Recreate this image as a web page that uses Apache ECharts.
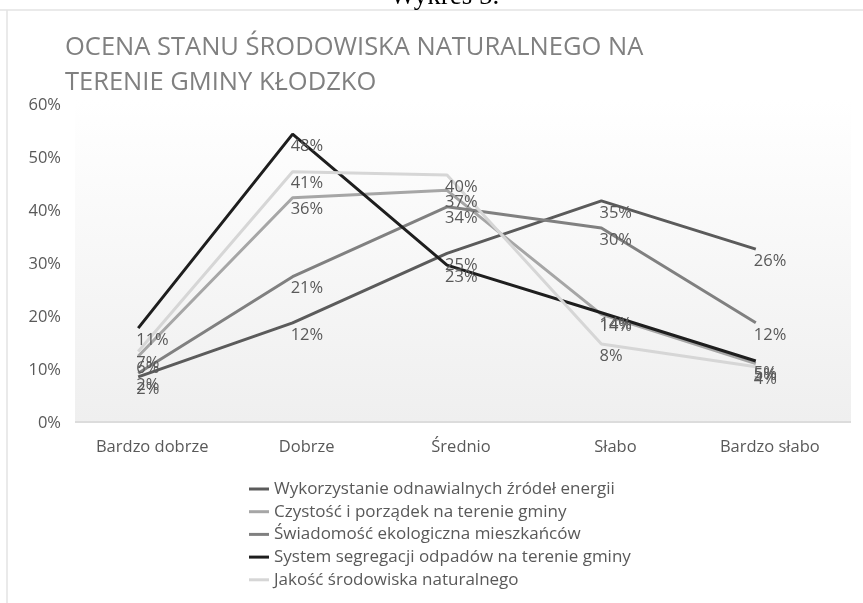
<!DOCTYPE html>
<html>
<head>
<meta charset="utf-8">
<script src="https://cdn.jsdelivr.net/npm/echarts@6/dist/echarts.min.js"></script>
<style>
  html, body { margin: 0; padding: 0; background: #fff; }
  #chart { width: 863px; height: 603px; }
</style>
</head>
<body>
<div id="chart"></div>
<script>
  // kategorie osi X
  var categories = ['Bardzo dobrze', 'Dobrze', 'Średnio', 'Słabo', 'Bardzo słabo']
  var seriesNames = [
    'Wykorzystanie odnawialnych źródeł energii',
    'Czystość i porządek na terenie gminy',
    'Świadomość ekologiczna mieszkańców',
    'System segregacji odpadów na terenie gminy',
    'Jakość środowiska naturalnego'
  ]
  var wykorzystanie = [8.7, 18.9, 32.0, 41.9, 32.8]
  var czystosc = [12.6, 42.5, 43.9, 20.5, 11.2]
  var swiadomosc = [9.4, 27.6, 40.8, 36.8, 18.9]
  var segregacja = [17.9, 54.5, 29.8, 20.8, 11.7]
  var jakosc = [13.5, 47.4, 46.8, 14.9, 10.6]
  // etykiety danych z wykresu
  var wykorzystanieLabels = [2, 12, 25, 35, 26]
  var czystoscLabels = [6, 36, 37, 14, 5]
  var swiadomoscLabels = [2, 21, 34, 30, 12]
  var segregacjaLabels = [11, 48, 23, 14, 5]
  var jakoscLabels = [7, 41, 40, 8, 4]
  var yTicks = [0, 10, 20, 30, 40, 50, 60]

  var colors = ['#5b5b5b', '#a6a6a6', '#808080', '#1e1e1e', '#d6d6d6']
  var values = [wykorzystanie, czystosc, swiadomosc, segregacja, jakosc]
  var labels = [wykorzystanieLabels, czystoscLabels, swiadomoscLabels, segregacjaLabels, jakoscLabels]
  var txt = '#595959'

  var chart = echarts.init(document.getElementById('chart'))

  var series = seriesNames.map(function (name, i) {
    return {
      name: name,
      type: 'line',
      data: values[i],
      symbol: 'circle',
      symbolSize: 0.1,
      lineStyle: { color: colors[i], width: 3 },
      itemStyle: { color: colors[i] },
      label: {
        show: true,
        position: 'right',
        distance: 0,
        offset: [-2, 12],
        color: txt,
        fontFamily: 'Open Sans',
        fontSize: 16.5,
        formatter: function (p) { return labels[i][p.dataIndex] + '%' }
      },
      z: 3
    }
  })

  chart.setOption({
    animation: false,
    color: colors,
    title: {
      text: 'OCENA STANU ŚRODOWISKA NATURALNEGO NA\nTERENIE GMINY KŁODZKO',
      left: 60,
      top: 25,
      textStyle: {
        color: '#808080',
        fontFamily: 'Open Sans',
        fontWeight: 'normal',
        fontSize: 25.5,
        lineHeight: 35
      }
    },
    graphic: [
      { type: 'line', shape: { x1: 0, y1: 10, x2: 863, y2: 10 }, style: { stroke: '#e3e3e3', lineWidth: 1.5 }, z: -2 },
      { type: 'line', shape: { x1: 7, y1: 10, x2: 7, y2: 603 }, style: { stroke: '#e3e3e3', lineWidth: 1.5 }, z: -2 },
      {
        type: 'text', left: 390, top: -17,
        style: { text: 'Wykres 5.', font: '27px "Liberation Serif"', fill: '#000' }
      },
      {
        type: 'rect', shape: { x: 75, y: 100, width: 776, height: 322 }, z: -1,
        style: {
          fill: new echarts.graphic.LinearGradient(0, 0, 0, 1, [
            { offset: 0, color: '#ffffff' },
            { offset: 1, color: '#efefef' }
          ])
        }
      },
      { type: 'line', shape: { x1: 75, y1: 422, x2: 851, y2: 422 }, style: { stroke: '#dcdcdc', lineWidth: 2 }, z: -1 }
    ],
    legend: {
      orient: 'vertical',
      left: 244,
      top: 475,
      icon: 'rect',
      itemWidth: 20,
      itemHeight: 3,
      itemGap: 4.7,
      data: seriesNames.map(function (n, i) { return { name: n, itemStyle: { color: colors[i] } } }),
      textStyle: { color: txt, fontFamily: 'Open Sans', fontSize: 17, lineHeight: 18 }
    },
    grid: { left: 61, right: 30, top: 105, bottom: 180, containLabel: false },
    xAxis: {
      type: 'category',
      data: categories,
      boundaryGap: true,
      axisLine: { show: false },
      axisTick: { show: false },
      axisLabel: {
        margin: 16,
        color: txt,
        fontFamily: 'Open Sans',
        fontSize: 16.5,
        padding: [0, 0, 0, 28]
      }
    },
    yAxis: {
      type: 'value',
      min: yTicks[0],
      max: yTicks[yTicks.length - 1],
      interval: 10,
      axisLine: { show: false },
      axisTick: { show: false },
      splitLine: { show: false },
      axisLabel: {
        margin: 0,
        color: txt,
        fontFamily: 'Open Sans',
        fontSize: 16.5,
        formatter: '{value}%'
      }
    },
    series: series
  })
</script>
</body>
</html>
